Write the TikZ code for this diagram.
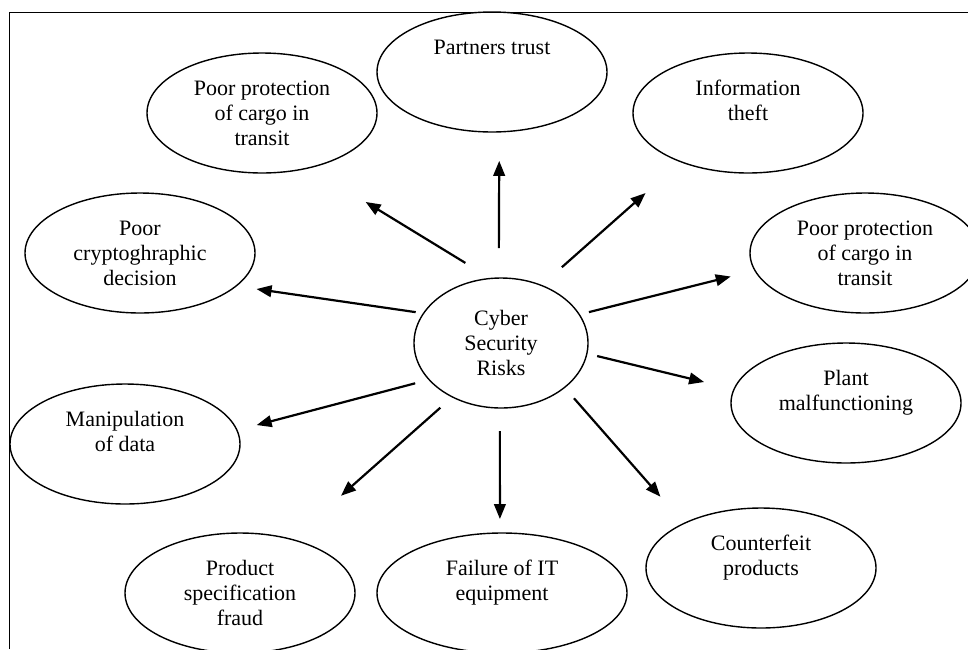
\documentclass[tikz,border=0pt]{standalone}
\usepackage{fontspec}
\setmainfont{Liberation Serif}
\usetikzlibrary{shapes.geometric, arrows.meta}
\tikzset{
  risk/.style={ellipse, draw=black, line width=0.7pt, minimum width=115pt, minimum height=60pt, inner sep=0pt, outer sep=0pt, align=center, font=\fontsize{11}{12.5}\selectfont},
  arrow/.style={line width=1.1pt,-{Triangle[length=7.5pt,width=5.8pt]}}
}

\begin{document}
\begin{tikzpicture}[x=0.5pt, y=-0.5pt]
    \useasboundingbox (0,0) rectangle (968,649);
    \clip (0,0) rectangle (968,649);

    % frame
    \draw[line width=0.5pt] (9,649) -- (9,12) -- (968,12);

    \node (risks) [risk, minimum width=87pt, minimum height=65pt] at (501,343) {Cyber\\Security\\Risks};
    \node (partners) [risk] at (492,72) {Partners trust\\\mbox{}\\\mbox{}};
    \node (cargotop) [risk] at (262,113) {Poor protection\\of cargo in\\transit};
    \node (theft) [risk] at (748,113) {Information\\theft\\\mbox{}};
    \node (crypto) [risk] at (140,253) {Poor\\cryptoghraphic\\decision};
    \node (cargoright) [risk] at (865,253) {Poor protection\\of cargo in\\transit};
    \node (manip) [risk] at (125,444) {Manipulation\\of data\\\mbox{}};
    \node (plant) [risk] at (846,403) {Plant\\malfunctioning\\\mbox{}};
    \node (product) [risk] at (240,593) {Product\\specification\\fraud};
    \node (failure) [risk, minimum width=125pt] at (502,593) {Failure of IT\\equipment\\\mbox{}};
    \node (fake) [risk] at (761,568) {Counterfeit\\products\\\mbox{}};

    % arrows out of the centre
    \draw[arrow, shorten <=15pt, shorten >=14.5pt] (risks.92) -- (partners.-83.5);
    \draw[arrow, shorten <=14.9pt, shorten >=32.9pt] (risks.99.3) -- (cargotop.-49.4);
    \draw[arrow, shorten <=13.7pt, shorten >=23.6pt] (risks.55.9) -- (theft.216.4);
    \draw[arrow, shorten <=4pt, shorten >=10.4pt] (risks.159.7) -- (crypto.-19.6);
    \draw[arrow, shorten <=5pt, shorten >=12.5pt] (risks.20.1) -- (cargoright.189.3);
    \draw[arrow, shorten <=5.3pt, shorten >=15.4pt] (risks.-7) -- (plant.173);
    \draw[arrow, shorten <=7.2pt, shorten >=10.2pt] (risks.207.8) -- (manip.7.7);
    \draw[arrow, shorten <=8.1pt, shorten >=32.9pt] (risks.228.7) -- (product.46.9);
    \draw[arrow, shorten <=11.5pt, shorten >=7pt] (risks.-91.8) -- (failure.92.9);
    \draw[arrow, shorten <=7.2pt, shorten >=17.8pt] (risks.-35.9) -- (fake.150.2);
\end{tikzpicture}
\end{document}
